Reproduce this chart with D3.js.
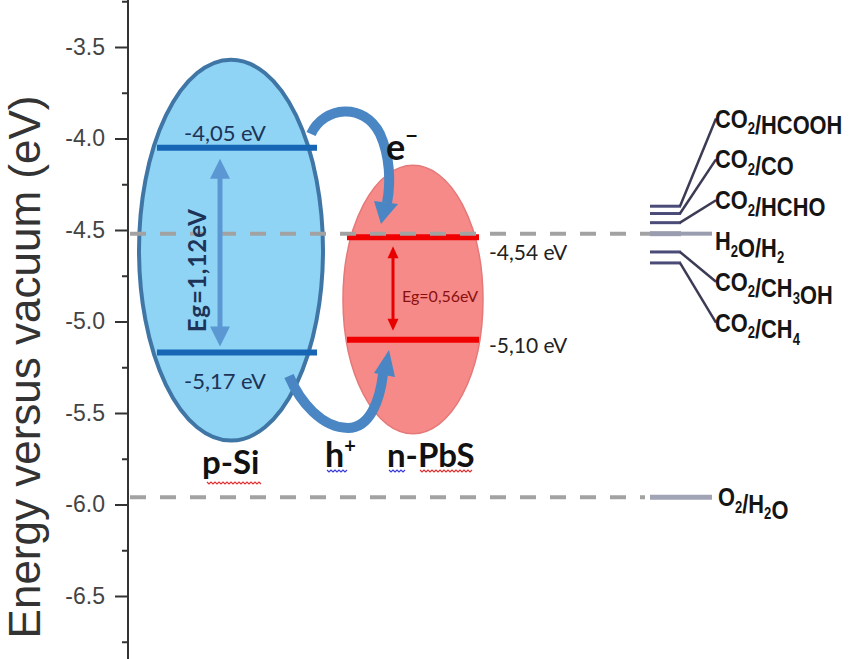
<!DOCTYPE html>
<html><head><meta charset="utf-8">
<script src="https://cdn.jsdelivr.net/npm/d3@7"></script>
<style>body{margin:0;background:#fff}svg{display:block}</style>
</head><body>
<svg id="chart" width="849" height="659"></svg>
<script>
// Energy axis ticks (eV vs vacuum)
const majorTicks = [-3.5, -4.0, -4.5, -5.0, -5.5, -6.0, -6.5];
const minorTicks = [-3.25, -3.75, -4.25, -4.75, -5.25, -5.75, -6.25, -6.75];

// Semiconductor band edges (eV)
const materials = ["p-Si", "n-PbS"];
const cbLevels = [-4.05, -4.54];
const vbLevels = [-5.17, -5.10];
const bandGaps = [1.12, 0.56];

// Redox couples (eV vs vacuum)
const coupleLabels = ["CO_2/HCOOH", "CO_2/CO", "CO_2/HCHO", "H_2O/H_2", "CO_2/CH_3OH", "CO_2/CH_4"];
const coupleLevels = [-4.37, -4.41, -4.46, -4.52, -4.62, -4.68];
const oxLabel = "O_2/H_2O";
const oxLevel = -5.96;

const svg = d3.select("#chart");
const axisX = 128;
const y = d3.scaleLinear().domain([-3.5, -6.5]).range([47, 596]);

const fmt = v => v.toFixed(2).replace(".", ",");

// ---------- axis ----------
const axisG = svg.append("g").attr("transform", `translate(${axisX},0)`);
axisG.append("line")
  .attr("x1", 0).attr("x2", 0)
  .attr("y1", y(y.invert(0))).attr("y2", y(y.invert(659)))
  .attr("stroke", "#333").attr("stroke-width", 2);
const major = axisG.append("g").call(
  d3.axisLeft(y).tickValues(majorTicks).tickSize(13).tickPadding(10)
    .tickFormat(d => d.toFixed(1)));
const minor = axisG.append("g").call(
  d3.axisLeft(y).tickValues(minorTicks).tickSize(6).tickFormat(""));
[major, minor].forEach(g => {
  g.select(".domain").remove();
  g.selectAll(".tick line").attr("stroke", "#333").attr("stroke-width", 2);
});
major.selectAll(".tick text")
  .attr("font-family", "'Liberation Sans', Arial, sans-serif")
  .attr("font-size", 23).attr("fill", "#444");

svg.append("text")
  .attr("transform", `translate(40,367) rotate(-90)`)
  .attr("text-anchor", "middle")
  .attr("font-family", "'Liberation Sans', Arial, sans-serif")
  .attr("font-size", 44).attr("fill", "#333")
  .text("Energy versus vacuum (eV)");

// ---------- semiconductor bubbles ----------
const bubbles = [
  {cx: 231, rx: 92, pad: 88, shift: 0, fill: "#8fd4f5", stroke: "#3f76a6", sw: 4,
   lx0: 157, lx1: 317, level: "#1766b5", lw: 6},
  {cx: 413, rx: 70, pad: 83, shift: 11, fill: "#f58a88", stroke: "#e57878", sw: 1.5,
   lx0: 347, lx1: 479, level: "#f00000", lw: 6}
];
bubbles.forEach((b, i) => {
  const yc = y(cbLevels[i]), yv = y(vbLevels[i]);
  svg.append("ellipse")
    .attr("cx", b.cx).attr("cy", (yc + yv) / 2 + b.shift)
    .attr("rx", b.rx).attr("ry", (yv - yc) / 2 + b.pad)
    .attr("fill", b.fill).attr("stroke", b.stroke).attr("stroke-width", b.sw);
});

// band edge lines
bubbles.forEach((b, i) => {
  [cbLevels[i], vbLevels[i]].forEach(v => {
    svg.append("line")
      .attr("x1", b.lx0).attr("x2", b.lx1).attr("y1", y(v)).attr("y2", y(v))
      .attr("stroke", b.level).attr("stroke-width", b.lw);
  });
});

// dashed reference lines (H2O/H2 and O2/H2O)
[coupleLevels[3], oxLevel].forEach((v, i) => {
  svg.append("line")
    .attr("x1", axisX + 2).attr("x2", i === 0 ? 652 : 645)
    .attr("y1", y(v)).attr("y2", y(v))
    .attr("stroke", "#a2a2a2").attr("stroke-width", 4)
    .attr("stroke-dasharray", "16,14");
});

// band edge values
const lato = "Lato, 'Open Sans', sans-serif";
svg.append("text").attr("x", 184).attr("y", y(cbLevels[0]) - 7)
  .attr("font-family", lato).attr("font-size", 22).attr("fill", "#1d3357")
  .text(fmt(cbLevels[0]) + " eV");
svg.append("text").attr("x", 184).attr("y", y(vbLevels[0]) + 36)
  .attr("font-family", lato).attr("font-size", 22).attr("fill", "#1d3357")
  .text(fmt(vbLevels[0]) + " eV");
svg.append("text").attr("x", 489).attr("y", y(cbLevels[1]) + 23)
  .attr("font-family", lato).attr("font-size", 21).attr("fill", "#222")
  .text(fmt(cbLevels[1]) + " eV");
svg.append("text").attr("x", 489).attr("y", y(vbLevels[1]) + 13)
  .attr("font-family", lato).attr("font-size", 21).attr("fill", "#222")
  .text(fmt(vbLevels[1]) + " eV");

// band gap arrows
function doubleArrow(x, y0, y1, color, w, hw, hl) {
  svg.append("line").attr("x1", x).attr("x2", x)
    .attr("y1", y0 + hl - 2).attr("y2", y1 - hl + 2)
    .attr("stroke", color).attr("stroke-width", w);
  svg.append("path")
    .attr("d", `M${x},${y0} L${x - hw / 2},${y0 + hl} L${x + hw / 2},${y0 + hl} Z`)
    .attr("fill", color);
  svg.append("path")
    .attr("d", `M${x},${y1} L${x - hw / 2},${y1 - hl} L${x + hw / 2},${y1 - hl} Z`)
    .attr("fill", color);
}
doubleArrow(220, y(cbLevels[0]) + 11, y(vbLevels[0]) - 6, "#5b97d3", 5, 20, 20);
doubleArrow(393, y(cbLevels[1]) + 9, y(vbLevels[1]) - 9, "#e80000", 3, 11, 12);

svg.append("text")
  .attr("transform", `translate(206,${(y(cbLevels[0]) + y(vbLevels[0])) / 2 + 20}) rotate(-90)`)
  .attr("text-anchor", "middle")
  .attr("font-family", lato).attr("font-weight", 700)
  .attr("font-size", 24).attr("letter-spacing", 1).attr("fill", "#1d3357")
  .text("Eg=" + fmt(bandGaps[0]) + "eV");
svg.append("text")
  .attr("x", 402).attr("y", (y(cbLevels[1]) + y(vbLevels[1])) / 2 + 13)
  .attr("font-family", lato).attr("font-size", 16).attr("fill", "#8a1010")
  .text("Eg=" + fmt(bandGaps[1]) + "eV");

// charge transfer arrows
const arrowCol = "#4a86c4";
svg.append("path")
  .attr("d", "M311,134 C324,106 364,102 380,134 C390,156 391,182 387,203")
  .attr("fill", "none").attr("stroke", arrowCol).attr("stroke-width", 10)
  .attr("stroke-linecap", "butt");
svg.append("path").attr("d", "M381,224 L374,201 L398,204 Z").attr("fill", arrowCol);

svg.append("path")
  .attr("d", "M289,376 C300,402 322,428 348,428 C370,428 380,400 383,374")
  .attr("fill", "none").attr("stroke", arrowCol).attr("stroke-width", 10);
svg.append("path").attr("d", "M389,350 L374,373 L395,377 Z").attr("fill", arrowCol);

// carrier symbols
svg.append("text").attr("x", 386).attr("y", 160)
  .attr("font-family", lato).attr("font-weight", 700).attr("font-size", 36).attr("fill", "#111")
  .text("e").append("tspan").attr("dy", -16).attr("font-size", 22).text("\u2212");
svg.append("text").attr("x", 325).attr("y", 467)
  .attr("font-family", lato).attr("font-weight", 700).attr("font-size", 34).attr("fill", "#111")
  .text("h").append("tspan").attr("dy", -14).attr("font-size", 20).text("+");

// material names
const nameX = [202, 387];
const nameY = [474, 467];
materials.forEach((m, i) => {
  svg.append("text").attr("x", nameX[i]).attr("y", nameY[i])
    .attr("font-family", lato).attr("font-weight", 700).attr("font-size", 33)
    .attr("fill", "#111").text(m);
});

// proofing squiggles under the labels
function squiggle(x0, x1, yy, color) {
  let d = `M${x0},${yy}`;
  for (let x = x0, k = 0; x < x1; x += 2, k++) d += ` L${x + 2},${yy + (k % 2 ? 0 : 2)}`;
  svg.append("path").attr("d", d).attr("fill", "none")
    .attr("stroke", color).attr("stroke-width", 1.2);
}
squiggle(207, 261, 482, "#e03030");
squiggle(327, 347, 470, "#3a3ad8");
squiggle(389, 404, 470, "#3a3ad8");
squiggle(420, 472, 470, "#e03030");

// ---------- redox couples ----------
function subText(sel, label, size) {
  label.split(/(_\d)/).filter(s => s.length).forEach(part => {
    if (part.startsWith("_")) {
      sel.append("tspan").attr("font-size", size * 0.6).attr("dy", size * 0.25).text(part.slice(1));
      sel.append("tspan").attr("dy", -size * 0.25).text("");
    } else {
      sel.append("tspan").text(part);
    }
  });
}
const labelFont = "'Liberation Sans', Arial, sans-serif";
const labelY = i => 241 + (i - 3) * 40.8;
function coupleText(x, yy, lab) {
  const t = svg.append("text")
    .attr("transform", `translate(${x},${yy}) scale(0.84,1)`)
    .attr("font-family", labelFont).attr("font-weight", 700)
    .attr("font-size", 26).attr("fill", "#151515");
  subText(t, lab, 26);
}
coupleLabels.forEach((lab, i) => {
  const yy = y(coupleLevels[i]);
  const isH = i === 3;
  svg.append("line").attr("x1", 650).attr("x2", 681).attr("y1", yy).attr("y2", yy)
    .attr("stroke", isH ? "#9a9cb0" : "#4b4b78").attr("stroke-width", isH ? 5 : 3);
  svg.append("line").attr("x1", 680).attr("x2", isH ? 712 : 716)
    .attr("y1", yy).attr("y2", isH ? yy : labelY(i))
    .attr("stroke", isH ? "#9a9cb0" : "#3b3b55").attr("stroke-width", isH ? 4 : 2.5);
  coupleText(715, labelY(i) + 9, lab);
});
svg.append("line").attr("x1", 650).attr("x2", 712).attr("y1", y(oxLevel)).attr("y2", y(oxLevel))
  .attr("stroke", "#a0a4b4").attr("stroke-width", 5);
coupleText(718, y(oxLevel) + 9, oxLabel);
</script>
</body></html>
